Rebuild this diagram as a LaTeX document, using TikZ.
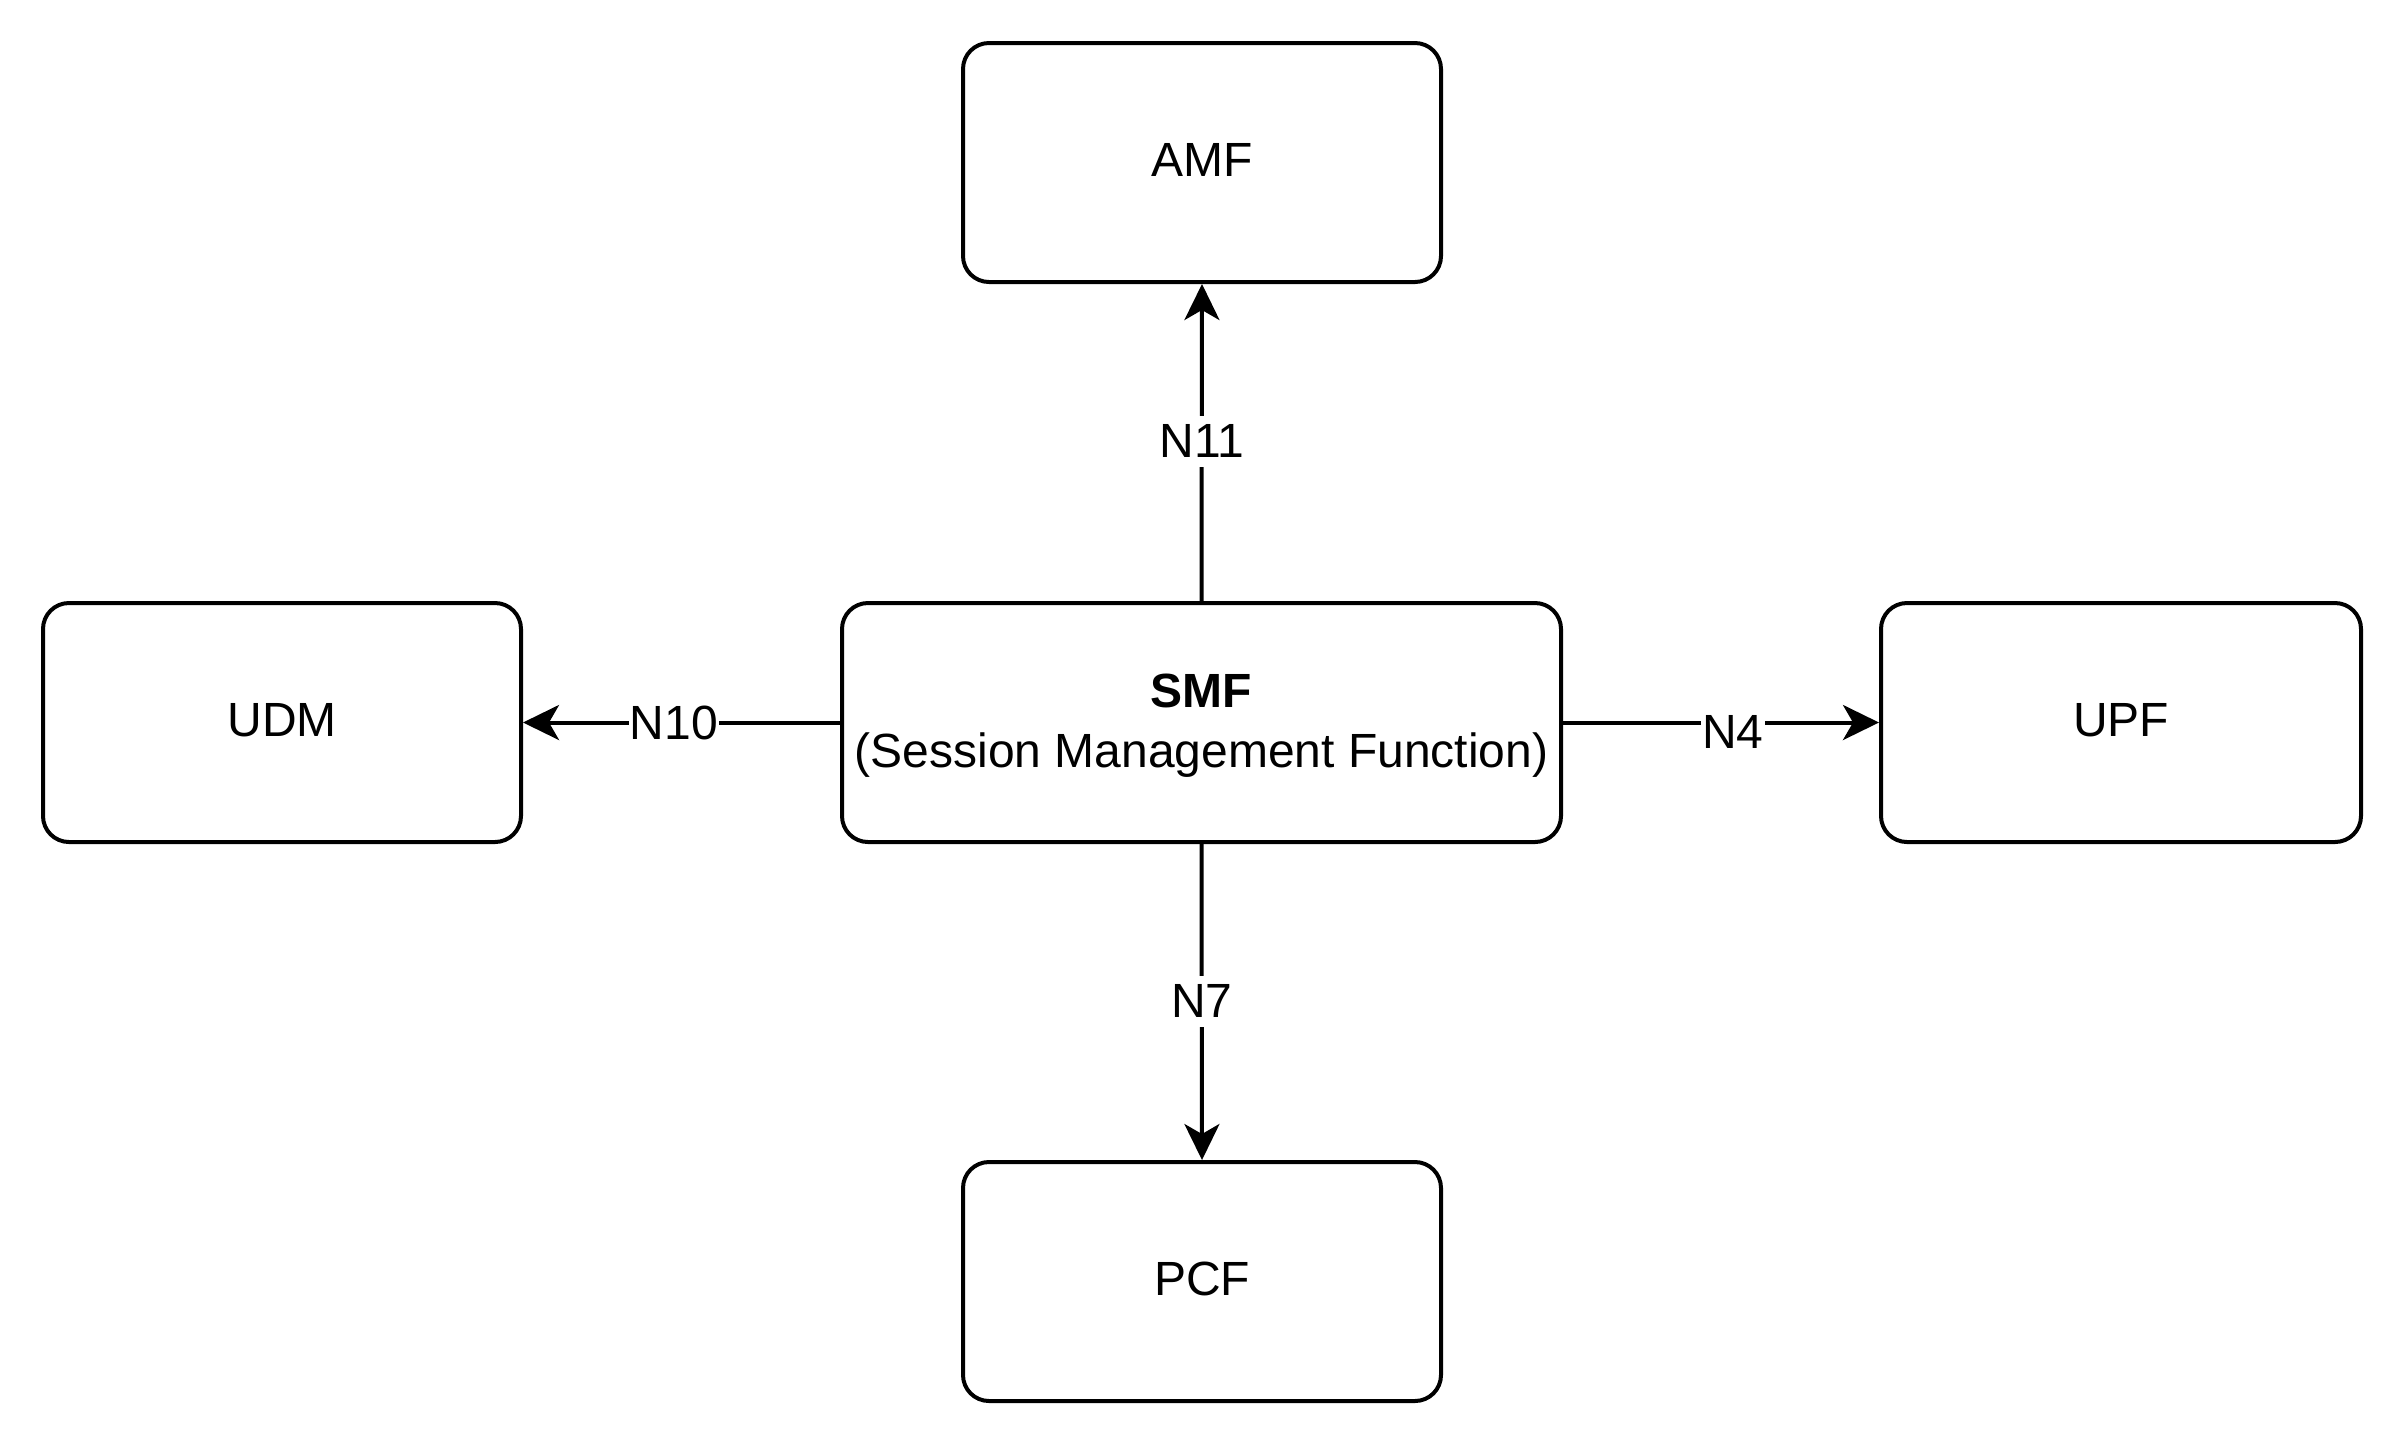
\documentclass[tikz,border=0pt]{standalone}
\usepackage{fontspec}
\setmainfont{Liberation Sans}
\usetikzlibrary{arrows.meta}
\begin{document}
\begin{tikzpicture}[x=0.5pt,y=-0.5pt,
  box/.style={draw, line width=2pt, rounded corners=13pt, minimum height=119.5pt, minimum width=239pt, align=center, font=\fontsize{24pt}{30pt}\selectfont, inner sep=0pt},
  onebox/.style={box, text depth=3pt},
  conn/.style={line width=2pt, -{Stealth[length=18pt,width=17.5pt,inset=5pt]}},
  lbl/.style={fill=white, inner xsep=0.5pt, inner ysep=4.5pt, font=\fontsize{24pt}{30pt}\selectfont}]
\useasboundingbox (0,0) rectangle (2404,1448);
\node[onebox] (amf) at (1202,162.5) {AMF};
\node[onebox] (udm) at (282,722.5) {UDM};
\node[box, minimum width=359.5pt] (smf) at (1201.5,722.5) {\rule{0pt}{20.2pt}\textbf{SMF}\\(Session Management Function)};
\node[onebox, minimum width=240pt] (upf) at (2121,722.5) {UPF};
\node[onebox] (pcf) at (1202,1281.5) {PCF};
\draw[conn] (smf.north) -- (amf.south);
\draw[conn] (smf.west) -- (udm.east);
\draw[conn] (smf.east) -- (upf.west);
\draw[conn] (smf.south) -- (pcf.north);
\node[lbl] (l11) at (1202,441) {N11};
\node[lbl] (l10) at (674,723) {N10};
\node[lbl] (l4) at (1733,732) {N4};
\node[lbl] (l7) at (1202,1001) {N7};
\end{tikzpicture}
\end{document}
